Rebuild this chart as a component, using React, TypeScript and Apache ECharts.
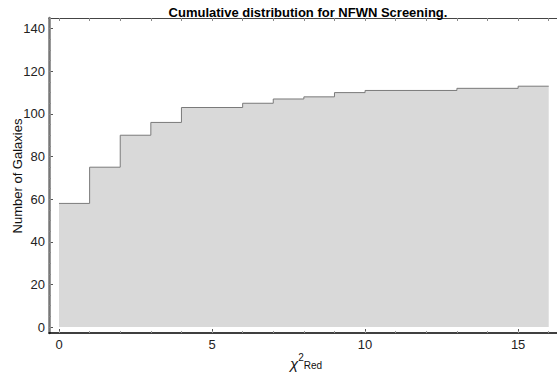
import React, { useEffect, useRef } from "react";
import * as echarts from "echarts";

const chiValues = [0, 1, 2, 3, 4, 6, 7, 8, 9, 10, 13, 15, 16];
const cumulativeCounts = [58, 75, 90, 96, 103, 105, 107, 108, 110, 111, 112, 113, 113];
const xMajorTicks = [0, 5, 10, 15];
const xMinorTicks = [0, 1, 2, 3, 4, 5, 6, 7, 8, 9, 10, 11, 12, 13, 14, 15, 16];
const yMajorTicks = [0, 20, 40, 60, 80, 100, 120, 140];
const yMinorTicks = [0, 5, 10, 15, 20, 25, 30, 35, 40, 45, 50, 55, 60, 65, 70, 75, 80, 85, 90, 95, 100, 105, 110, 115, 120, 125, 130, 135, 140, 145];

const FONT = "'Liberation Sans', Arial, sans-serif";

export default function App() {
  const ref = useRef<HTMLDivElement>(null);
  useEffect(() => {
    if (!ref.current) return;
    const chart = echarts.init(ref.current, null, { renderer: "svg" });
    const data = chiValues.map((x, i) => [x, cumulativeCounts[i]]);
    const xMin = -0.327;
    const xMax = 16.27;
    const yMin = -2.8;
    const yMax = 145;
    chart.setOption({
      animation: false,
      title: {
        text: "Cumulative distribution for NFWN Screening.",
        left: 303,
        textAlign: "center",
        top: 1,
        textStyle: { fontFamily: FONT, fontSize: 13, fontWeight: "bold", color: "#000" },
      },
      grid: { left: 49, right: 0, top: 18, bottom: 43, containLabel: false, outerBoundsMode: "none" },
      xAxis: [
        {
          type: "value",
          min: xMin,
          max: xMax,
          position: "bottom",
          axisLine: { show: true, onZero: false, lineStyle: { color: "#000", width: 1.5 } },
          axisTick: { show: true, inside: true, length: 4, customValues: xMajorTicks, lineStyle: { color: "#555" } },
          minorTick: { show: false },
          axisLabel: { show: true, customValues: xMajorTicks, margin: 5, fontFamily: FONT, fontSize: 13, color: "#222" },
          splitLine: { show: false },
        },
        {
          type: "value",
          min: xMin,
          max: xMax,
          position: "bottom",
          axisLine: { show: false, onZero: false },
          axisTick: { show: true, inside: true, length: 2, customValues: xMinorTicks, lineStyle: { color: "#999" } },
          axisLabel: { show: false },
          splitLine: { show: false },
        },
        {
          type: "value",
          min: xMin,
          max: xMax,
          position: "top",
          axisLine: { show: true, onZero: false, lineStyle: { color: "#444", width: 1 } },
          axisTick: { show: true, inside: true, length: 3, customValues: xMinorTicks, lineStyle: { color: "#888" } },
          axisLabel: { show: false },
          splitLine: { show: false },
        },
      ],
      yAxis: [
        {
          type: "value",
          min: yMin,
          max: yMax,
          position: "left",
          axisLine: { show: true, onZero: false, lineStyle: { color: "#777", width: 2.5 } },
          axisTick: { show: true, inside: true, length: 4, customValues: yMajorTicks, lineStyle: { color: "#555" } },
          axisLabel: { show: true, customValues: yMajorTicks, margin: 4, fontFamily: FONT, fontSize: 13, color: "#222" },
          splitLine: { show: false },
        },
        {
          type: "value",
          min: yMin,
          max: yMax,
          position: "left",
          axisLine: { show: false, onZero: false },
          axisTick: { show: true, inside: true, length: 2, customValues: yMinorTicks, lineStyle: { color: "#888" } },
          axisLabel: { show: false },
          splitLine: { show: false },
        },
      ],
      graphic: [
        {
          type: "text",
          x: 17,
          y: 176,
          rotation: Math.PI / 2,
          style: {
            text: "Number of Galaxies",
            fontFamily: FONT,
            fontSize: 13,
            fill: "#111",
            align: "center",
            verticalAlign: "middle",
          },
        },
        {
          type: "text",
          left: 290,
          top: 352,
          style: {
            text: "{chi|χ}{sup|2}{sub|Red}",
            rich: {
              chi: { fontFamily: FONT, fontSize: 15, fontStyle: "italic", fill: "#111", verticalAlign: "bottom" },
              sup: { fontFamily: FONT, fontSize: 10, fill: "#111", padding: [0, 0, 9, 0] },
              sub: { fontFamily: FONT, fontSize: 10, fill: "#111", padding: [7, 0, 0, 0] },
            },
          },
        },
      ],
      series: [
        {
          type: "line",
          xAxisIndex: 0,
          yAxisIndex: 0,
          data,
          step: "end",
          symbol: "none",
          lineStyle: { color: "#7a7a7a", width: 1 },
          areaStyle: { color: "#d9d9d9", opacity: 1, origin: 0 },
        },
      ],
    });
    return () => chart.dispose();
  }, []);
  return <div ref={ref} style={{ width: 557, height: 376, position: "absolute", left: 0, top: 0 }} />;
}
